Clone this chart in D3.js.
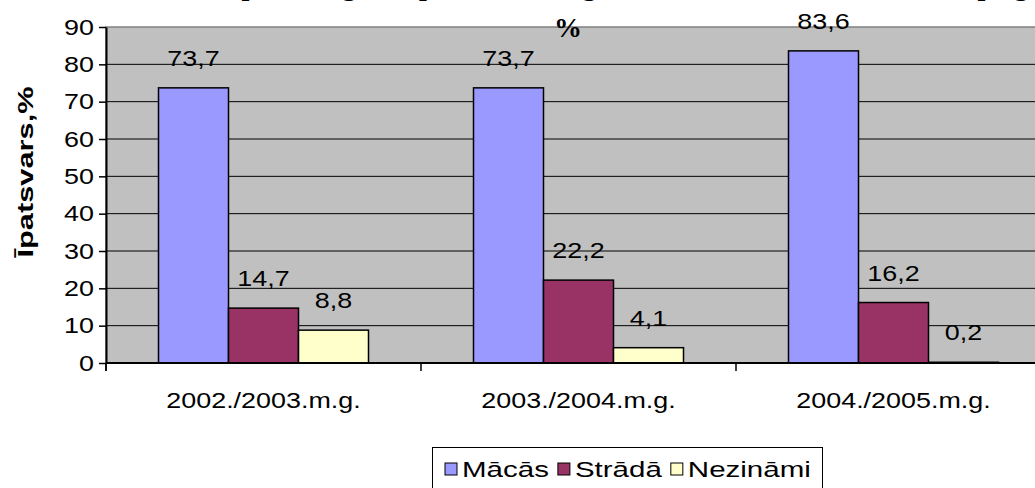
<!DOCTYPE html>
<html>
<head>
<meta charset="utf-8">
<script src="https://cdn.jsdelivr.net/npm/d3@7"></script>
<style>
  body { margin: 0; background: #fff; }
  text { font-family: "Liberation Sans", Arial, sans-serif; }
</style>
</head>
<body>
<div id="chart"></div>
<script>
// dati
var years = ["2002./2003.m.g.", "2003./2004.m.g.", "2004./2005.m.g."];
var series = ["Mācās", "Strādā", "Nezināmi"];
var macas = [73.7, 73.7, 83.6];
var strada = [14.7, 22.2, 16.2];
var nezinami = [8.8, 4.1, 0.2];
var yTicks = [0, 10, 20, 30, 40, 50, 60, 70, 80, 90];
var colors = ["#9999FF", "#993366", "#FFFFCC"];

var values = [macas, strada, nezinami];
var rows = [];
years.forEach(function(y, i){
	series.forEach(function(s, j){
		rows.push({year: y, series: s, value: values[j][i], k: j});
	});
});

var W = 1035, H = 488;
var pLeft = 106, pTop = 27, pBottom = 363, pRight = 1051;
var sx = 1.24; // teksts izstiepts horizontāli
var fs = 21.7;

var svg = d3.select("#chart")
			.append("svg")
			.attr("width", W)
			.attr("height", H);

var x = d3.scaleBand().domain(years).range([pLeft, pRight]);
var xs = d3.scaleBand().domain(series).range([0, x.bandwidth() * 2 / 3]);
var y = d3.scaleLinear().domain([0, 90]).range([pBottom, pTop]);

function stretched(sel, tx, ty, k){
	return sel.attr("transform", "translate(" + tx + "," + ty + ") scale(" + (k || sx) + ",1)");
}

// plot fons
svg.append("rect")
	.attr("x", pLeft).attr("y", pTop)
	.attr("width", pRight - pLeft).attr("height", pBottom - pTop)
	.attr("fill", "#C0C0C0")
	.attr("stroke", "#808080")
	.attr("stroke-width", 1.5);

// režģis
svg.selectAll("line.grid")
	.data(yTicks.slice(1, -1))
	.enter()
	.append("line")
	.attr("class", "grid")
	.attr("x1", pLeft).attr("x2", pRight)
	.attr("y1", function(d){ return y(d); })
	.attr("y2", function(d){ return y(d); })
	.attr("stroke", "#000")
	.attr("stroke-width", 1);

// stabiņi
svg.selectAll("rect.bar")
	.data(rows)
	.enter()
	.append("rect")
	.attr("class", "bar")
	.attr("x", function(d){ return x(d.year) + x.bandwidth() / 6 + xs(d.series); })
	.attr("y", function(d){ return y(d.value); })
	.attr("width", xs.bandwidth())
	.attr("height", function(d){ return pBottom - y(d.value); })
	.attr("fill", function(d){ return colors[d.k]; })
	.attr("stroke", "#000")
	.attr("stroke-width", 1.5);

// vērtību etiķetes
svg.selectAll("text.lbl")
	.data(rows)
	.enter()
	.append("text")
	.attr("class", "lbl")
	.attr("text-anchor", "middle")
	.attr("font-size", fs)
	.attr("fill", "#000")
	.each(function(d){
		var cx = x(d.year) + x.bandwidth() / 6 + xs(d.series) + xs.bandwidth() / 2;
		stretched(d3.select(this), cx, y(d.value) - 22);
	})
	.text(function(d){ return String(d.value).replace(".", ","); });

// y ass
var yAxis = svg.append("g")
	.attr("transform", "translate(" + pLeft + ",0)")
	.call(d3.axisLeft(y).tickValues(yTicks).tickSize(7).tickSizeOuter(0).tickFormat(""));
yAxis.select(".domain").attr("stroke", "#000").attr("stroke-width", 2);
yAxis.selectAll(".tick line").attr("stroke", "#000").attr("stroke-width", 1.5);
svg.append("line")
	.attr("x1", pLeft).attr("x2", pLeft)
	.attr("y1", pBottom).attr("y2", pBottom + 8)
	.attr("stroke", "#000").attr("stroke-width", 1.5);
svg.selectAll("text.ytick")
	.data(yTicks)
	.enter()
	.append("text")
	.attr("class", "ytick")
	.attr("text-anchor", "end")
	.attr("font-size", fs)
	.each(function(d){ stretched(d3.select(this), pLeft - 12, y(d) + 7.5); })
	.text(function(d){ return d; });

// x ass
svg.append("line")
	.attr("x1", pLeft).attr("x2", pRight)
	.attr("y1", pBottom).attr("y2", pBottom)
	.attr("stroke", "#000").attr("stroke-width", 2);
svg.selectAll("line.xtick")
	.data(years)
	.enter()
	.append("line")
	.attr("class", "xtick")
	.attr("x1", function(d){ return x(d); })
	.attr("x2", function(d){ return x(d); })
	.attr("y1", pBottom).attr("y2", pBottom + 8)
	.attr("stroke", "#000").attr("stroke-width", 1.5);
svg.selectAll("text.xlbl")
	.data(years)
	.enter()
	.append("text")
	.attr("class", "xlbl")
	.attr("text-anchor", "middle")
	.attr("font-size", fs)
	.each(function(d){ stretched(d3.select(this), x(d) + x.bandwidth() / 2, 408); })
	.text(function(d){ return d; });

// ass nosaukums
svg.append("text")
	.attr("transform", "translate(33,172) rotate(-90) scale(1.42,1)")
	.attr("text-anchor", "middle")
	.attr("font-size", fs)
	.attr("font-weight", "bold")
	.text("Īpatsvars,%");

// virsraksts (augšā nogriezts)
var title = svg.append("g")
	.attr("font-weight", "bold")
	.attr("font-size", 28);
title.append("text")
	.attr("text-anchor", "middle")
	.attr("x", 585).attr("y", -5)
	.style("font-family", "'Liberation Serif', serif")
	.text("Absolventu turpmākās gaitas pēc skolas beigšanas, mācās, strādā, nezināmi, pa gadiem,");
title.append("text")
	.attr("text-anchor", "middle")
	.attr("x", 568).attr("y", 37)
	.style("font-family", "'Liberation Serif', serif")
	.text("%");

// leģenda
var lg = svg.append("g");
lg.append("rect")
	.attr("x", 432.5).attr("y", 447.5)
	.attr("width", 390).attr("height", 60)
	.attr("fill", "#fff").attr("stroke", "#000").attr("stroke-width", 1);
var legK = 1.36;
var lx = 445;
series.forEach(function(s, j){
	lg.append("rect")
		.attr("x", lx).attr("y", 463)
		.attr("width", 12).attr("height", 12)
		.attr("fill", colors[j]).attr("stroke", "#000").attr("stroke-width", 1);
	var t = stretched(lg.append("text"), lx + 17, 477, legK)
		.attr("font-size", fs)
		.text(s);
	lx += 17 + t.node().getComputedTextLength() * legK + 9;
});
</script>
</body>
</html>
